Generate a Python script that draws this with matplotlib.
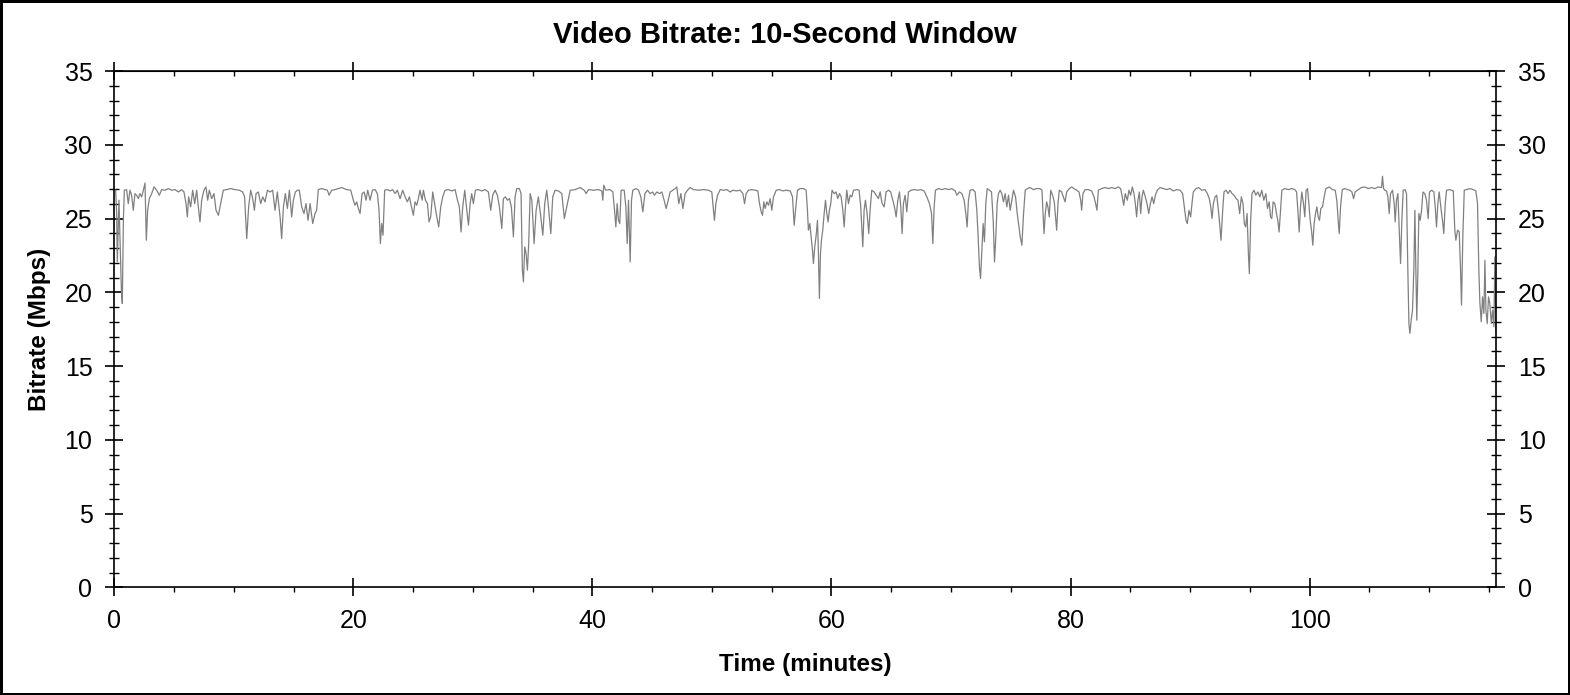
"""
Video bitrate chart, 10-second window
"""
import matplotlib
matplotlib.use('Agg')
import matplotlib.pyplot as plt
from matplotlib.ticker import MultipleLocator

# time (minutes) and bitrate (Mbps)
time_min = [
    0.11, 0.20, 0.25, 0.39, 0.48, 0.59, 0.67, 0.76, 0.84, 1.03, 1.17, 1.31, 1.45, 1.59, 1.73, 1.87,
    2.01, 2.15, 2.29, 2.43, 2.57, 2.68, 2.79, 2.93, 3.13, 3.32, 3.55, 3.77, 3.96, 4.24, 4.52, 4.80,
    5.08, 5.36, 5.64, 5.83, 6.00, 6.11, 6.22, 6.39, 6.56, 6.73, 6.89, 7.03, 7.17, 7.31, 7.50, 7.67,
    7.81, 7.95, 8.15, 8.34, 8.51, 8.71, 8.90, 9.12, 9.40, 9.74, 10.10, 10.46, 10.74, 10.90, 11.08, 11.24,
    11.41, 11.58, 11.72, 11.86, 12.05, 12.25, 12.42, 12.61, 12.81, 13.03, 13.25, 13.45, 13.64, 13.87, 14.00, 14.15,
    14.31, 14.48, 14.65, 14.84, 14.98, 15.15, 15.32, 15.48, 15.68, 15.87, 16.04, 16.21, 16.38, 16.60, 16.79, 16.93,
    17.07, 17.35, 17.63, 17.83, 17.97, 18.19, 18.47, 18.75, 19.03, 19.44, 19.78, 20.00, 20.14, 20.28, 20.42, 20.56,
    20.73, 20.90, 21.06, 21.20, 21.40, 21.59, 21.82, 22.01, 22.15, 22.26, 22.37, 22.48, 22.62, 22.85, 23.07, 23.29,
    23.49, 23.68, 23.91, 24.13, 24.33, 24.52, 24.69, 24.86, 25.02, 25.16, 25.30, 25.44, 25.58, 25.75, 25.86, 26.03,
    26.20, 26.33, 26.47, 26.64, 26.84, 26.98, 27.14, 27.31, 27.48, 27.67, 27.95, 28.23, 28.51, 28.71, 28.87, 29.01,
    29.15, 29.32, 29.49, 29.63, 29.77, 29.90, 30.04, 30.21, 30.46, 30.74, 31.02, 31.30, 31.49, 31.66, 31.86, 32.05,
    32.22, 32.42, 32.55, 32.72, 32.89, 33.06, 33.22, 33.39, 33.53, 33.67, 33.89, 34.03, 34.14, 34.23, 34.34, 34.45,
    34.56, 34.67, 34.79, 34.93, 35.12, 35.29, 35.48, 35.68, 35.85, 36.01, 36.18, 36.35, 36.52, 36.68, 36.88, 37.16,
    37.44, 37.65, 37.91, 38.14, 38.56, 38.97, 39.31, 39.48, 39.67, 40.09, 40.51, 40.79, 40.87, 40.95, 41.12, 41.48,
    41.71, 41.85, 41.96, 42.07, 42.18, 42.29, 42.40, 42.66, 42.80, 42.91, 43.02, 43.16, 43.27, 43.38, 43.66, 43.86,
    44.05, 44.22, 44.39, 44.61, 44.83, 45.03, 45.19, 45.39, 45.61, 45.81, 46.00, 46.17, 46.34, 46.50, 46.73, 46.92,
    47.06, 47.23, 47.40, 47.57, 47.76, 47.96, 48.18, 48.46, 48.88, 49.29, 49.71, 49.99, 50.10, 50.21, 50.33, 50.47,
    50.69, 50.97, 51.25, 51.53, 51.75, 52.03, 52.36, 52.59, 52.73, 52.86, 53.06, 53.34, 53.62, 53.84, 53.98, 54.12,
    54.23, 54.34, 54.45, 54.59, 54.73, 54.87, 55.01, 55.15, 55.38, 55.65, 55.93, 56.21, 56.55, 56.74, 56.88, 57.02,
    57.16, 57.38, 57.66, 57.88, 57.99, 58.07, 58.19, 58.30, 58.41, 58.49, 58.60, 58.72, 58.83, 58.91, 58.99, 59.08,
    59.16, 59.27, 59.39, 59.50, 59.61, 59.72, 59.83, 59.94, 60.05, 60.22, 60.39, 60.53, 60.67, 60.81, 60.95, 61.06,
    61.17, 61.28, 61.42, 61.56, 61.70, 61.84, 62.12, 62.31, 62.45, 62.62, 62.73, 62.84, 62.98, 63.12, 63.23, 63.37,
    63.57, 63.74, 63.93, 64.07, 64.24, 64.41, 64.57, 64.77, 64.96, 65.13, 65.27, 65.41, 65.55, 65.69, 65.80, 65.91,
    66.02, 66.16, 66.30, 66.44, 66.64, 66.92, 67.20, 67.47, 67.75, 67.98, 68.20, 68.37, 68.48, 68.59, 68.70, 68.95,
    69.23, 69.51, 69.79, 70.07, 70.35, 70.49, 70.71, 70.91, 71.10, 71.24, 71.35, 71.46, 71.60, 71.83, 72.02, 72.16,
    72.27, 72.38, 72.47, 72.58, 72.69, 72.80, 72.91, 73.03, 73.22, 73.39, 73.53, 73.64, 73.75, 73.86, 73.97, 74.11,
    74.25, 74.39, 74.53, 74.67, 74.81, 74.95, 75.09, 75.23, 75.40, 75.54, 75.67, 75.79, 75.93, 76.07, 76.21, 76.40,
    76.61, 76.89, 77.16, 77.44, 77.61, 77.69, 77.78, 77.89, 78.00, 78.11, 78.22, 78.34, 78.50, 78.64, 78.75, 78.84,
    78.95, 79.06, 79.26, 79.40, 79.54, 79.68, 79.90, 80.09, 80.29, 80.51, 80.71, 80.85, 80.93, 81.04, 81.21, 81.49,
    81.77, 81.96, 82.10, 82.21, 82.33, 82.60, 82.88, 83.16, 83.44, 83.72, 84.00, 84.19, 84.33, 84.45, 84.58, 84.75,
    84.89, 85.03, 85.17, 85.31, 85.42, 85.53, 85.64, 85.76, 85.87, 85.98, 86.09, 86.26, 86.40, 86.54, 86.68, 86.82,
    86.96, 87.10, 87.26, 87.49, 87.76, 88.04, 88.32, 88.60, 88.88, 89.16, 89.38, 89.52, 89.66, 89.77, 89.91, 90.05,
    90.16, 90.27, 90.50, 90.72, 90.97, 91.25, 91.45, 91.61, 91.73, 91.84, 91.95, 92.09, 92.23, 92.34, 92.45, 92.59,
    92.73, 92.84, 93.01, 93.18, 93.34, 93.51, 93.68, 93.85, 94.01, 94.15, 94.29, 94.43, 94.54, 94.65, 94.77, 94.88,
    94.96, 95.07, 95.18, 95.35, 95.50, 95.67, 95.84, 96.00, 96.17, 96.34, 96.48, 96.62, 96.73, 96.84, 96.95, 97.09,
    97.23, 97.34, 97.45, 97.57, 97.68, 97.93, 98.21, 98.49, 98.77, 98.91, 99.02, 99.13, 99.24, 99.35, 99.49, 99.60,
    99.71, 99.83, 99.94, 100.05, 100.16, 100.27, 100.38, 100.50, 100.61, 100.72, 100.83, 100.94, 101.08, 101.22, 101.36, 101.64,
    101.92, 102.14, 102.28, 102.39, 102.48, 102.59, 102.73, 102.95, 103.17, 103.37, 103.54, 103.68, 103.81, 104.07, 104.34, 104.62,
    104.90, 105.18, 105.46, 105.74, 106.02, 106.10, 106.19, 106.30, 106.44, 106.55, 106.66, 106.77, 106.94, 107.08, 107.16, 107.27,
    107.39, 107.50, 107.61, 107.72, 107.83, 108.00, 108.11, 108.22, 108.31, 108.39, 108.50, 108.61, 108.72, 108.81, 108.89, 108.97,
    109.06, 109.14, 109.25, 109.37, 109.48, 109.64, 109.78, 109.92, 110.03, 110.20, 110.40, 110.51, 110.62, 110.73, 110.84, 111.01,
    111.12, 111.23, 111.35, 111.46, 111.74, 112.02, 112.15, 112.24, 112.38, 112.52, 112.63, 112.71, 112.82, 112.94, 113.13, 113.41,
    113.69, 113.91, 114.05, 114.16, 114.25, 114.36, 114.47, 114.58, 114.67, 114.75, 114.86, 114.97, 115.08, 115.20, 115.31, 115.42,
    115.50, 115.59,
]

bitrate_mbps = [
    26.92, 25.34, 22.06, 26.24, 23.53, 20.26, 19.24, 24.88, 26.92, 26.96, 26.01, 26.92, 26.58, 25.56, 26.69, 26.58,
    26.35, 26.69, 26.47, 26.92, 27.41, 23.53, 25.56, 26.35, 26.69, 27.14, 26.92, 26.58, 26.96, 26.92, 27.03, 26.92,
    26.96, 26.80, 26.96, 26.80, 26.01, 25.11, 26.47, 25.79, 26.92, 26.01, 26.92, 25.79, 24.77, 26.24, 26.92, 27.14,
    26.24, 26.92, 26.35, 26.69, 25.56, 25.22, 26.01, 26.92, 26.96, 27.03, 26.96, 26.92, 26.80, 26.47, 23.64, 25.79,
    26.92, 26.35, 25.56, 26.69, 26.80, 26.01, 26.47, 26.13, 26.92, 26.80, 26.92, 25.56, 26.80, 25.11, 23.64, 25.79,
    26.69, 25.68, 26.92, 25.11, 26.24, 26.80, 26.92, 26.92, 25.79, 25.34, 26.01, 24.88, 26.01, 24.66, 25.34, 25.56,
    26.96, 27.03, 26.96, 26.92, 26.58, 26.92, 26.96, 27.03, 27.10, 26.96, 26.92, 26.24, 25.90, 26.13, 25.68, 25.34,
    26.69, 26.80, 26.24, 26.92, 26.24, 26.92, 26.96, 26.69, 25.56, 23.30, 24.66, 23.87, 26.92, 26.96, 26.87, 26.96,
    26.69, 26.92, 26.35, 26.92, 26.47, 26.13, 26.47, 25.79, 25.22, 26.13, 25.90, 26.35, 26.92, 26.24, 26.92, 26.24,
    26.01, 24.77, 25.11, 26.80, 25.79, 25.11, 24.43, 25.79, 26.47, 26.92, 26.96, 26.87, 26.96, 26.24, 25.79, 24.09,
    25.79, 26.92, 25.56, 24.55, 26.01, 26.69, 26.01, 26.92, 26.96, 26.87, 26.96, 26.80, 25.56, 26.58, 26.92, 26.58,
    25.79, 24.32, 26.35, 26.47, 26.24, 26.35, 25.79, 23.76, 26.47, 27.03, 27.03, 26.69, 21.50, 20.71, 23.08, 22.63,
    21.50, 23.30, 26.69, 26.24, 23.30, 25.56, 26.47, 25.11, 23.87, 26.01, 26.92, 25.56, 23.98, 26.47, 26.92, 26.87,
    26.69, 25.00, 26.01, 26.92, 26.96, 27.10, 26.92, 26.69, 26.96, 26.92, 26.96, 26.87, 26.24, 27.26, 26.92, 26.96,
    26.80, 25.56, 24.43, 26.01, 24.88, 24.66, 26.92, 26.92, 25.79, 23.30, 26.24, 22.06, 26.24, 26.92, 27.03, 26.92,
    26.47, 25.45, 26.69, 26.92, 26.69, 26.80, 26.58, 26.80, 26.69, 26.80, 26.24, 25.68, 26.24, 26.80, 26.92, 27.03,
    27.14, 26.01, 26.69, 25.68, 26.69, 26.92, 27.10, 26.96, 26.92, 26.96, 26.92, 26.80, 25.79, 24.88, 26.01, 26.58,
    26.96, 26.92, 26.96, 26.80, 26.92, 26.87, 26.92, 26.69, 26.01, 26.69, 26.92, 26.96, 26.92, 26.87, 26.01, 25.45,
    25.22, 26.13, 25.68, 26.13, 25.90, 26.35, 25.56, 26.47, 26.92, 26.96, 26.87, 26.92, 26.87, 26.47, 24.55, 25.79,
    26.92, 27.03, 27.03, 26.92, 25.56, 24.21, 24.66, 23.76, 22.85, 21.95, 23.08, 23.87, 24.88, 22.63, 19.58, 22.63,
    23.53, 24.21, 25.34, 26.24, 25.34, 24.77, 25.56, 26.01, 26.92, 26.69, 26.80, 26.35, 26.69, 26.47, 25.56, 24.43,
    25.79, 26.92, 26.01, 26.58, 26.47, 26.92, 26.96, 26.92, 25.79, 23.08, 25.56, 26.24, 25.34, 23.98, 25.56, 26.92,
    26.80, 26.58, 26.35, 26.80, 26.01, 25.79, 26.80, 26.92, 26.80, 26.24, 25.79, 25.11, 26.24, 26.80, 25.79, 23.98,
    26.01, 26.58, 25.45, 26.80, 26.92, 26.96, 26.92, 26.96, 26.87, 26.47, 26.01, 25.34, 23.30, 25.79, 26.92, 27.03,
    26.96, 27.03, 26.96, 27.03, 26.87, 26.58, 26.80, 26.69, 26.24, 25.34, 24.43, 26.24, 26.92, 26.96, 26.80, 25.56,
    23.76, 21.72, 20.93, 22.85, 24.66, 23.42, 26.01, 27.03, 26.92, 26.80, 24.88, 22.06, 23.76, 26.01, 26.69, 26.92,
    26.69, 26.13, 26.69, 25.79, 26.58, 25.56, 26.24, 26.92, 26.47, 25.34, 24.55, 23.76, 23.19, 25.34, 26.92, 27.03,
    27.10, 26.96, 27.03, 27.03, 26.92, 25.56, 23.98, 25.34, 26.13, 25.79, 25.11, 26.92, 26.58, 26.13, 25.11, 24.21,
    26.01, 26.92, 26.80, 26.47, 26.13, 26.80, 27.03, 27.14, 27.03, 26.92, 26.80, 26.24, 25.56, 26.69, 26.96, 26.96,
    26.87, 26.47, 26.01, 25.56, 26.92, 27.03, 27.10, 27.03, 27.10, 27.03, 27.14, 27.03, 26.47, 25.90, 26.69, 26.24,
    26.92, 26.58, 27.14, 26.69, 26.01, 25.11, 26.24, 26.80, 25.34, 26.47, 26.92, 26.47, 26.01, 25.34, 26.01, 26.47,
    26.01, 26.58, 26.92, 27.10, 27.03, 26.96, 27.03, 26.87, 26.96, 26.92, 26.69, 25.79, 24.88, 24.66, 25.56, 25.11,
    26.01, 26.80, 27.03, 27.10, 26.92, 26.96, 26.69, 26.35, 25.79, 25.00, 26.01, 26.47, 26.58, 25.79, 24.88, 23.53,
    25.56, 26.80, 26.92, 26.69, 26.92, 26.69, 26.58, 26.35, 26.24, 25.34, 26.47, 26.01, 24.66, 24.43, 25.34, 22.63,
    21.27, 24.88, 26.69, 26.92, 26.58, 26.80, 26.47, 26.92, 26.24, 26.69, 25.68, 26.13, 25.11, 25.00, 26.13, 26.01,
    25.34, 24.88, 24.09, 25.56, 26.92, 27.03, 26.96, 27.03, 26.96, 26.80, 25.56, 24.09, 25.79, 26.80, 26.01, 25.11,
    26.92, 27.03, 26.01, 24.88, 24.21, 23.19, 24.66, 25.34, 25.79, 25.11, 24.88, 25.68, 25.79, 26.47, 27.03, 27.14,
    26.96, 26.92, 26.24, 24.88, 23.98, 25.79, 26.96, 27.03, 26.96, 26.92, 26.80, 26.35, 26.80, 26.96, 27.10, 27.14,
    27.03, 27.10, 27.03, 27.14, 27.10, 27.87, 27.03, 26.92, 26.87, 26.47, 25.34, 26.69, 26.92, 26.01, 24.77, 26.24,
    26.69, 24.21, 21.95, 24.88, 26.92, 26.96, 26.69, 21.50, 17.88, 17.21, 18.11, 18.79, 21.50, 25.56, 21.50, 18.11,
    21.50, 25.34, 24.88, 25.56, 26.80, 26.69, 26.24, 25.00, 26.80, 26.92, 26.80, 25.79, 24.43, 26.01, 26.80, 25.56,
    24.88, 23.98, 26.01, 26.92, 26.96, 26.87, 24.21, 23.53, 24.21, 24.09, 21.50, 19.13, 23.76, 26.92, 26.96, 27.03,
    26.96, 26.87, 26.01, 21.50, 19.24, 18.00, 19.69, 18.56, 22.17, 18.79, 17.88, 19.69, 19.24, 17.88, 18.79, 17.66,
    22.40, 17.43,
]

x_ticks = [0, 20, 40, 60, 80, 100]
y_ticks = [0, 5, 10, 15, 20, 25, 30, 35]

plt.rcParams['font.family'] = ['Liberation Sans', 'DejaVu Sans']

fig = plt.figure(figsize=(15.7, 6.95), dpi=100)
fig.patch.set_facecolor('white')
fig.patch.set_edgecolor('black')
fig.patch.set_linewidth(2.5)

ax = fig.add_axes([0.0728, 0.1550, 0.8801, 0.7428])
ax.plot(time_min, bitrate_mbps, color='#808080', linewidth=0.9)

ax.set_xlim(0, 115.6)
ax.set_ylim(0, 35)
ax.set_xticks(x_ticks)
ax.set_yticks(y_ticks)
ax.xaxis.set_minor_locator(MultipleLocator(5))
ax.yaxis.set_minor_locator(MultipleLocator(1))

for side in ax.spines.values():
    side.set_linewidth(1.2)

# y ticks cross the spine on both sides, labels left and right
ax.tick_params(axis='y', which='major', direction='inout', length=13.5, width=1.2,
               labelsize=18, pad=9, left=True, right=True, labelleft=True, labelright=True)
ax.tick_params(axis='y', which='minor', direction='inout', length=6.5, width=1.0,
               left=True, right=True)
ax.tick_params(axis='x', which='major', direction='inout', length=13.5, width=1.2,
               labelsize=18, pad=9)
ax.tick_params(axis='x', which='minor', direction='out', length=3.3, width=1.0)

# top axis: ticks only, minor pointing inward
top = ax.secondary_xaxis('top')
top.set_xticks(x_ticks)
top.xaxis.set_minor_locator(MultipleLocator(5))
top.tick_params(which='major', direction='inout', length=13.5, width=1.2, labeltop=False)
top.tick_params(which='minor', direction='in', length=3.3, width=1.0)

ax.set_xlabel('Time (minutes)', fontsize=17.5, fontweight='bold', labelpad=14)
ax.set_ylabel('Bitrate (Mbps)', fontsize=17.5, fontweight='bold', labelpad=10)

fig.text(0.5, 1 - 43.3 / 695, 'Video Bitrate: 10-Second Window', ha='center', va='baseline',
         fontsize=21, fontweight='bold')

fig.savefig('out.png', dpi=100, facecolor='white', edgecolor='black')
